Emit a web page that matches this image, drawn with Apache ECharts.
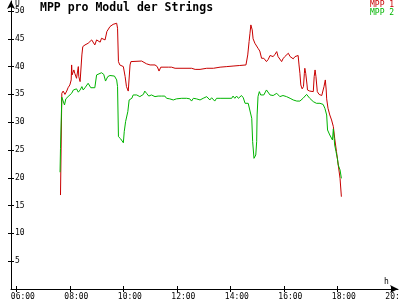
<!DOCTYPE html>
<html>
<head>
<meta charset="utf-8">
<script src="https://cdn.jsdelivr.net/npm/echarts@6/dist/echarts.min.js"></script>
<style>html,body{margin:0;padding:0;background:#fff;}#c{width:400px;height:300px;}</style>
</head>
<body>
<div id="c"></div>
<script>
// time in minutes since midnight, values in V
const mpp1Times = [459,462,465,469,473,476,480,483,484,485,489,491,495,499,500,503,507,509,514,518,521,525,529,533,536,540,544,548,551,555,559,563,566,570,574,577,581,585,587,589,592,596,600,604,607,611,613,615,617,619,641,645,652,660,671,676,680,684,701,708,716,753,761,772,787,802,817,832,846,861,875,879,882,884,886,889,891,895,899,902,906,910,915,921,925,929,933,936,940,944,947,951,955,958,962,966,970,974,977,981,985,989,992,994,996,998,1001,1004,1006,1007,1009,1012,1013,1018,1026,1028,1030,1032,1035,1039,1045,1048,1050,1053,1055,1056,1059,1063,1067,1071,1074,1078,1082,1086,1089];
const mpp1Values = [16.9,35.2,35.6,35.0,35.6,36.2,36.7,37.6,40.3,38.5,39.4,38.8,37.9,40.0,38.2,37.3,42.1,43.6,43.9,43.8,44.2,44.5,44.8,45.0,43.9,44.8,45.0,44.4,45.1,45.4,44.8,46.3,46.6,47.2,47.5,47.6,47.4,47.8,46.9,40.9,40.3,40.3,40.0,38.2,36.4,35.6,35.4,40.3,40.9,41.0,41.0,40.7,40.5,40.3,40.3,40.0,39.2,39.9,39.9,39.9,39.7,39.7,39.5,39.5,39.7,39.7,39.9,40.0,40.1,40.2,40.3,42.1,44.5,46.0,47.5,46.6,45.0,44.2,44.0,43.3,42.8,41.5,41.5,40.9,41.3,42.0,42.1,41.8,42.2,42.7,41.8,42.0,40.9,41.4,41.8,42.0,42.4,41.8,41.9,41.4,41.8,41.8,42.0,40.3,38.8,36.7,36.0,36.4,38.8,39.7,38.8,36.7,35.8,35.6,35.5,38.2,39.4,38.2,35.5,35.0,34.8,34.7,36.4,37.6,35.8,34.2,32.5,31.3,30.4,29.2,27.1,24.7,22.3,19.9,16.6];

const mpp2Times = [458,459,461,462,468,471,476,480,484,488,491,495,499,503,507,510,514,518,521,524,527,530,536,540,544,551,556,560,565,570,580,585,587,589,594,600,602,605,610,613,615,619,622,626,630,633,637,645,648,652,657,663,671,678,686,689,693,697,701,704,712,719,731,734,742,749,753,757,764,772,779,783,787,790,794,798,805,809,817,820,828,843,846,850,854,858,861,865,869,873,876,880,884,888,890,893,895,897,899,900,902,905,908,911,915,918,921,925,929,933,936,940,944,947,951,955,958,966,974,977,981,985,989,992,996,1000,1003,1007,1011,1015,1018,1022,1026,1030,1033,1037,1041,1045,1048,1052,1056,1058,1063,1067,1069,1071,1073,1074,1077,1080,1082,1086,1089];
const mpp2Values = [21.0,25.3,31.5,34.5,33.1,34.2,34.6,34.9,35.2,35.8,35.5,36.0,35.4,35.8,36.4,35.8,36.2,36.4,37.0,37.3,36.2,36.4,36.2,38.5,38.8,38.9,38.6,37.4,38.2,38.4,38.3,37.6,36.4,27.4,27.0,26.3,28.3,30.1,31.9,34.0,34.0,34.3,34.9,35.2,34.9,35.0,34.6,35.0,35.6,35.2,34.7,34.9,34.6,34.7,34.7,34.4,34.7,34.3,34.6,34.2,34.0,34.2,34.3,34.5,34.3,34.2,33.8,34.3,34.2,34.0,34.3,34.3,34.6,34.3,34.0,34.4,33.8,34.3,34.3,34.1,34.3,34.3,34.7,34.3,34.7,34.3,34.6,34.8,34.4,33.4,33.1,33.4,33.7,30.7,26.5,23.5,23.2,24.1,26.5,31.3,34.6,35.5,34.9,34.6,34.9,34.6,35.8,36.0,34.9,34.6,34.8,35.0,35.2,34.9,34.6,34.3,34.8,34.6,34.3,34.6,34.0,34.3,33.8,34.0,33.8,34.0,34.3,34.6,35.0,34.8,34.3,34.0,33.7,34.0,33.4,33.1,33.4,33.5,33.2,32.5,31.3,28.6,27.7,27.4,26.8,28.8,29.0,25.9,24.7,23.5,22.3,21.4,19.9];

const xTicks = [360,480,600,720,840,960,1080,1200];
const yTicks = [5,10,15,20,25,30,35,40,45,50];
const seriesNames = ['MPP 1','MPP 2'];
const titleText = 'MPP pro Modul der Strings';

const RED = '#c80000', GREEN = '#00b400';
const FONT = '"DejaVu Sans Mono", monospace';

function hhmm(v){
  const h = Math.floor(v/60), m = v%60;
  return String(h).padStart(2,'0') + ':' + String(m).padStart(2,'0');
}

const chart = echarts.init(document.getElementById('c'), null, {renderer:'canvas'});
const xBase = {
  type:'value', min:348, max:1216, splitLine:{show:false}
};
const yBase = {
  type:'value', min:0, max:51.8, splitLine:{show:false}
};
chart.setOption({
  animation:false,
  backgroundColor:'#fff',
  grid:{left:11, right:2, top:1, bottom:11, containLabel:false, outerBoundsMode:'none'},
  xAxis:[
    Object.assign({}, xBase, {
      axisLine:{show:true, lineStyle:{color:'#000', width:1}, symbol:['none','arrow'], symbolSize:[6,8]},
      axisTick:{show:true, length:3, customValues:xTicks, lineStyle:{color:'#000'}},
      axisLabel:{show:true, customValues:xTicks, formatter:hhmm, margin:4, padding:[0,0,0,13], color:'#000', fontFamily:FONT, fontSize:8, showMaxLabel:true, showMinLabel:true, hideOverlap:false}
    }),
    Object.assign({}, xBase, {
      position:'bottom',
      axisLine:{show:false},
      axisTick:{show:true, inside:true, length:3, customValues:xTicks, lineStyle:{color:'#000'}},
      axisLabel:{show:false}
    })
  ],
  yAxis:[
    Object.assign({}, yBase, {
      axisLine:{show:true, lineStyle:{color:'#000', width:1}, symbol:['none','arrow'], symbolSize:[6,8]},
      axisTick:{show:true, length:3, customValues:yTicks, lineStyle:{color:'#000'}},
      axisLabel:{show:true, inside:true, customValues:yTicks, margin:4, color:'#000', fontFamily:FONT, fontSize:8}
    }),
    Object.assign({}, yBase, {
      position:'left',
      axisLine:{show:false},
      axisTick:{show:true, inside:true, length:3, customValues:yTicks, lineStyle:{color:'#000'}},
      axisLabel:{show:false}
    })
  ],
  series:[
    {name:seriesNames[0], type:'line', showSymbol:false, symbol:'none', xAxisIndex:0, yAxisIndex:0,
     lineStyle:{color:RED, width:1}, itemStyle:{color:RED},
     data: mpp1Times.map((t,i)=>[t, mpp1Values[i]])},
    {name:seriesNames[1], type:'line', showSymbol:false, symbol:'none', xAxisIndex:0, yAxisIndex:0,
     lineStyle:{color:GREEN, width:1}, itemStyle:{color:GREEN},
     data: mpp2Times.map((t,i)=>[t, mpp2Values[i]])}
  ],
  graphic:[
    {type:'text', left:40, top:2, style:{text:titleText, font:'bold 11.5px '+FONT, fill:'#000'}},
    {type:'text', left:370, top:1, style:{text:seriesNames[0], font:'8px '+FONT, fill:RED}},
    {type:'text', left:370, top:9, style:{text:seriesNames[1], font:'8px '+FONT, fill:GREEN}},
    {type:'text', left:15, top:0, style:{text:'U', font:'8px '+FONT, fill:'#000'}},
    {type:'text', left:384, top:278, style:{text:'h', font:'8px '+FONT, fill:'#000'}}
  ]
});
</script>
</body>
</html>
